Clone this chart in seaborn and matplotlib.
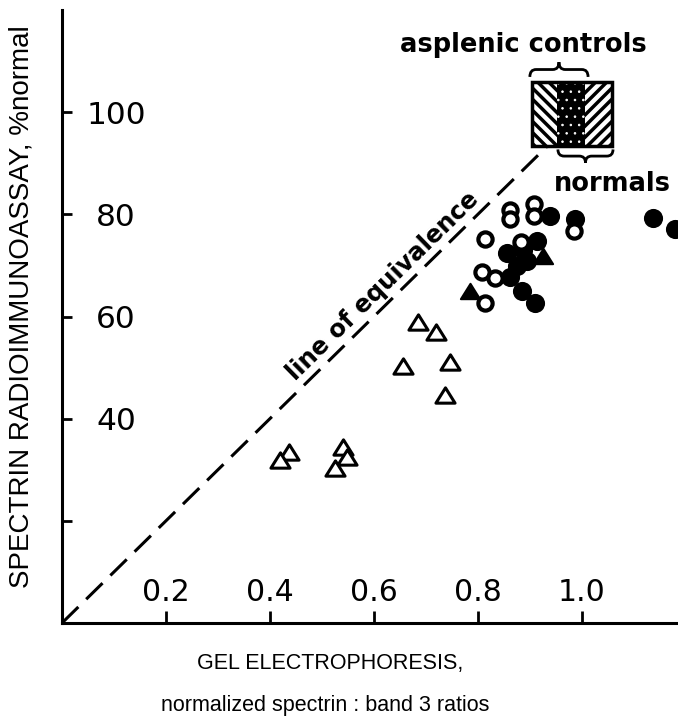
import numpy as np
import pandas as pd
import matplotlib
matplotlib.use("Agg")
import matplotlib.pyplot as plt
import seaborn as sns
from matplotlib.patches import Rectangle, PathPatch
from matplotlib.path import Path

# ---- data ----
# open triangles
tri_open_x = [0.685, 0.719, 0.656, 0.746, 0.737, 0.437, 0.419, 0.540, 0.548, 0.525]
tri_open_y = [59.0, 56.9, 50.4, 51.0, 44.7, 33.5, 32.0, 34.5, 32.5, 30.4]
# filled triangles
tri_fill_x = [0.925, 0.785]
tri_fill_y = [71.8, 64.9]
# filled circles
circ_fill_x = [0.938, 0.987, 0.913, 0.856, 0.887, 0.875, 0.862, 0.894, 0.885, 0.910, 1.137, 1.179]
circ_fill_y = [79.6, 79.0, 74.7, 72.5, 73.1, 69.8, 67.8, 70.8, 64.9, 62.7, 79.2, 77.1]
# open circles
circ_open_x = [0.862, 0.862, 0.908, 0.908, 0.813, 0.883, 0.808, 0.833, 0.813, 0.985]
circ_open_y = [80.8, 79.0, 82.0, 79.6, 75.1, 74.5, 68.8, 67.6, 62.7, 76.7]

# line of equivalence
equiv_x = [0.0, 0.935]
equiv_y = [0.0, 93.5]

# reference box: asplenic controls / overlap / normals
box_x = [0.904, 0.952, 1.006, 1.058]
box_y = [93.3, 105.9]

x_ticks = [0.2, 0.4, 0.6, 0.8, 1.0]
x_ticklabels = ["0.2", "0.4", "0.6", "0.8", "1.0"]
y_ticks = [20, 40, 60, 80, 100]
y_ticklabels = ["", "40", "60", "80", "100"]

sns.set_theme(style="ticks")
plt.rcParams["font.family"] = ["DejaVu Sans"]
plt.rcParams["hatch.linewidth"] = 2.5
for k in ["text.color", "axes.labelcolor", "xtick.color", "ytick.color", "axes.edgecolor"]:
    plt.rcParams[k] = "black"

fig = plt.figure(figsize=(6.78, 7.23), dpi=100)
ax = fig.add_axes([62 / 678, 100 / 723, 616 / 678, 613 / 723])

# line of equivalence
sns.lineplot(x=equiv_x, y=equiv_y, ax=ax, color="black", linewidth=2.2,
             linestyle=(0, (7.5, 3.6)), zorder=1)

tri_marker = Path([(-1, -0.8), (1, -0.8), (0, 0.8), (-1, -0.8)], closed=True)

df_to = pd.DataFrame({"x": tri_open_x, "y": tri_open_y})
sns.scatterplot(data=df_to, x="x", y="y", ax=ax, marker=tri_marker, s=190,
                facecolor="white", edgecolor="black", linewidth=2.2, zorder=3)

df_cf = pd.DataFrame({"x": circ_fill_x, "y": circ_fill_y})
sns.scatterplot(data=df_cf, x="x", y="y", ax=ax, marker="o", s=190,
                facecolor="black", edgecolor="black", linewidth=0, zorder=3)

df_co = pd.DataFrame({"x": circ_open_x, "y": circ_open_y})
sns.scatterplot(data=df_co, x="x", y="y", ax=ax, marker="o", s=105,
                facecolor="white", edgecolor="black", linewidth=3.0, zorder=4)

df_tf = pd.DataFrame({"x": tri_fill_x, "y": tri_fill_y})
sns.scatterplot(data=df_tf, x="x", y="y", ax=ax, marker=tri_marker, s=190,
                facecolor="black", edgecolor="black", linewidth=1.5, zorder=5)

# hatched reference box
h = box_y[1] - box_y[0]
ax.add_patch(Rectangle((box_x[0], box_y[0]), box_x[1] - box_x[0], h,
                       facecolor="white", edgecolor="black", hatch="\\\\\\", linewidth=0, zorder=2))
with plt.rc_context({"hatch.linewidth": 0.6}):
    mid = Rectangle((box_x[1], box_y[0]), box_x[2] - box_x[1], h,
                    facecolor="black", edgecolor="white", hatch="..", linewidth=0, zorder=2)
if hasattr(mid, "set_hatch_linewidth"):
    mid.set_hatch_linewidth(0.6)
ax.add_patch(mid)
ax.add_patch(Rectangle((box_x[2], box_y[0]), box_x[3] - box_x[2], h,
                       facecolor="white", edgecolor="black", hatch="///", linewidth=0, zorder=2))
ax.add_patch(Rectangle((box_x[0], box_y[0]), box_x[3] - box_x[0], h,
                       facecolor="none", edgecolor="black", linewidth=2.5, zorder=3))


def brace(x0, x1, y, hh, r):
    xm = (x0 + x1) / 2
    verts = [(x0, y), (x0, y + hh / 2), (x0 + r, y + hh / 2),
             (xm - r, y + hh / 2), (xm, y + hh / 2), (xm, y + hh),
             (xm, y + hh / 2), (xm + r, y + hh / 2),
             (x1 - r, y + hh / 2), (x1, y + hh / 2), (x1, y)]
    codes = [Path.MOVETO, Path.CURVE3, Path.CURVE3, Path.LINETO, Path.CURVE3, Path.CURVE3,
             Path.CURVE3, Path.CURVE3, Path.LINETO, Path.CURVE3, Path.CURVE3]
    ax.add_patch(PathPatch(Path(verts, codes), facecolor="none", edgecolor="black",
                           linewidth=2.0, zorder=3, clip_on=False))


brace(box_x[0] - 0.004, box_x[2] + 0.006, 106.9, 2.9, 0.012)
brace(box_x[1] + 0.002, box_x[3] + 0.002, 92.7, -2.6, 0.012)

ax.text(0.888, 111.8, "asplenic controls", ha="center", va="baseline",
        fontsize=18.5, fontweight="bold")
ax.text(1.058, 84.5, "normals", ha="center", va="baseline",
        fontsize=18.5, fontweight="bold")
ax.text(0.618, 66.0, "line of equivalence", ha="center", va="center",
        rotation=44.4, fontsize=17.5, fontweight="bold")

ax.set_xlim(0, 1.185)
ax.set_ylim(0, 120)
ax.set_xticks(x_ticks)
ax.set_xticklabels(x_ticklabels, fontsize=21.5)
ax.set_yticks(y_ticks)
ax.set_yticklabels(y_ticklabels, fontsize=22.5)
ax.tick_params(axis="x", direction="in", length=9, width=2, pad=-22)
ax.tick_params(axis="y", direction="in", length=7, width=2, pad=-39)
for lab in ax.get_xticklabels():
    lab.set_verticalalignment("center")
for lab in ax.get_yticklabels():
    lab.set_horizontalalignment("center")

sns.despine(ax=ax)
ax.spines["left"].set_linewidth(2.2)
ax.spines["bottom"].set_linewidth(2.2)
ax.set_xlabel("")
ax.set_ylabel("")

fig.text(22 / 678, 1 - 307 / 723, "SPECTRIN RADIOIMMUNOASSAY, %normal", rotation=90,
         ha="center", va="center", fontsize=20, family=["Liberation Sans"])
fig.text(330 / 678, 1 - 664 / 723, "GEL ELECTROPHORESIS,", ha="center", va="center",
         fontsize=15.5, family=["Liberation Sans"])
fig.text(325 / 678, 1 - 706 / 723, "normalized spectrin : band 3 ratios", ha="center",
         va="center", fontsize=15.5, family=["Liberation Sans"])

fig.savefig("out.png", dpi=100)
